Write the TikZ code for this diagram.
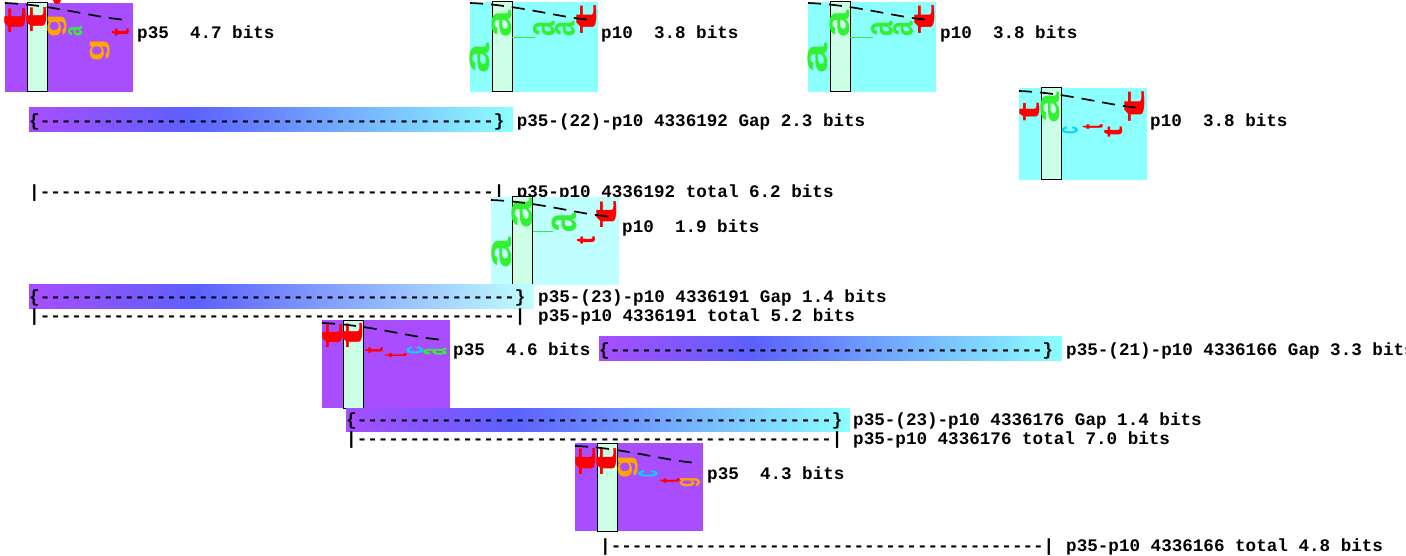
\documentclass[tikz,border=0pt]{standalone}
\usepackage{fontspec}
\usepackage{graphicx}
\newfontfamily\monob{Liberation Mono}
\newfontfamily\glyphfont{Liberation Sans}
\definecolor{lpurple}{RGB}{168,78,255}
\definecolor{lcyan}{RGB}{140,255,255}
\definecolor{lpale}{RGB}{192,255,255}
\definecolor{lmint}{RGB}{204,255,229}
\definecolor{gblue}{RGB}{92,96,255}
\definecolor{bred}{RGB}{255,0,0}
\definecolor{bgreen}{RGB}{50,240,50}
\definecolor{borange}{RGB}{255,165,0}
\definecolor{bcyan}{RGB}{0,215,255}
\newcount\dcnt
\newcommand\dashrun[1]{\dcnt=#1\relax\loop\ifnum\dcnt>0 -{}\advance\dcnt by -1\repeat}
\newcounter{gl}
\newcommand\glyph[6]{%
\stepcounter{gl}%
\node[inner sep=0pt, text=#1] (g\thegl) at ({(#3+#5)/2},{(#4+#6)/2}) {\rotatebox{90}{\resizebox*{\dimexpr#6pt-#4pt\relax}{\dimexpr#5pt-#3pt\relax}{\glyphfont\bfseries #2}}};}
% shapes: x0, y0, h, bg, column offset
\newcommand\logobox[5]{%
\fill[#4] (#1,#2) rectangle ++(128,#3);
\draw[black, line width=1pt, fill=lmint] ({#1+#5},#2) rectangle ++(20,#3);}
\newcommand\logocurve[2]{%
\draw[black, line width=1.7pt, dash pattern=on 13pt off 8pt] (#1,{#2+3}) .. controls ({#1+50},{#2+5}) and ({#1+90},{#2+18}) .. ({#1+123},{#2+20});}
% gradient bar: x1, y1, x2, y2, right colour
\newcommand\gapbar[5]{%
\path[left color=lpurple, right color=gblue] (#1,#2) rectangle ({#1+0.33*(#3-#1)},#4);
\path[left color=gblue, right color=#5] ({#1+0.33*(#3-#1)-0.5},#2) rectangle (#3,#4);}
\tikzset{lbl/.style={anchor=base west, inner sep=0pt, font=\monob\bfseries\fontsize{17.6}{20}\selectfont}}
\begin{document}
\begin{tikzpicture}[x=1pt,y=-1pt]
\useasboundingbox[fill=white] (0,0) rectangle (1406,556);
% ---------- logo 1
\logobox{5}{3}{89}{lpurple}{22}
\glyph{bred}{t}{5}{7}{26}{33}
\glyph{bred}{t}{27}{7}{47}{33}
\glyph{borange}{g}{48}{15}{67}{38}
\glyph{bgreen}{a}{68}{27}{82}{37}
\glyph{borange}{g}{90}{40}{110}{62}
\glyph{bred}{t}{112}{29}{129}{37}
\fill[bred] (57,0) circle (4);
\logocurve{5}{0}
\node[lbl] (L1) at (137,39) {p35\ \ 4.7 bits};
% ---------- logo 2
\logobox{470}{2}{90}{lcyan}{22}
\draw[bgreen, line width=0.6pt] (512,37) -- (535,37);
\glyph{bgreen}{a}{470}{43}{490}{73}
\glyph{bgreen}{a}{492}{10}{512}{37}
\glyph{bgreen}{a}{533}{22}{555}{37}
\glyph{bgreen}{a}{555}{22}{575}{37}
\glyph{bred}{t}{577}{5}{597}{35}
\logocurve{470}{0}
\node[lbl] (L2) at (601,39) {p10\ \ 3.8 bits};
% ---------- logo 3
\logobox{808}{2}{90}{lcyan}{22}
\draw[bgreen, line width=0.6pt] (850,37) -- (873,37);
\glyph{bgreen}{a}{808}{43}{828}{73}
\glyph{bgreen}{a}{830}{10}{850}{37}
\glyph{bgreen}{a}{871}{22}{893}{37}
\glyph{bgreen}{a}{893}{22}{913}{37}
\glyph{bred}{t}{915}{5}{935}{35}
\logocurve{808}{0}
\node[lbl] (L3) at (940,39) {p10\ \ 3.8 bits};
% ---------- bar 1
\gapbar{29}{108}{513}{132}{lcyan}
\node[lbl] (B1) at (29,126.5) {\{\dashrun{43}\}};
\node[lbl] (B1l) at (516.6,126.5) {p35-(22)-p10 4336192 Gap 2.3 bits};
% ---------- logo 4
\logobox{1019}{88}{92}{lcyan}{22}
\glyph{bred}{t}{1020}{103}{1040}{122}
\glyph{bgreen}{a}{1041}{92}{1060}{123}
\glyph{bcyan}{c}{1062}{127}{1078}{135}
\glyph{bred}{t}{1083}{125}{1103}{130}
\glyph{bred}{t}{1105}{127}{1123}{138}
\glyph{bred}{t}{1125}{90}{1145}{122}
\logocurve{1019}{88}
\node[lbl] (L4) at (1150,127) {p10\ \ 3.8 bits};
% ---------- total 1
\node[lbl] (T1) at (29,197.5) {|\dashrun{43}|};
\node[lbl] (T1l) at (516.6,197.5) {p35-p10 4336192 total 6.2 bits};
% ---------- logo 5
\logobox{491}{197}{88}{lpale}{21}
\draw[bgreen, line width=0.6pt] (533,231) -- (553,231);
\glyph{bgreen}{a}{492}{237}{512}{268}
\glyph{bgreen}{a}{512}{198}{533}{228}
\glyph{bgreen}{a}{552}{213}{577}{232}
\glyph{bred}{t}{577}{237}{595}{245}
\glyph{bred}{t}{597}{200}{617}{228}
\logocurve{491}{197}
\node[lbl] (L5) at (622,233) {p10\ \ 1.9 bits};
% ---------- bar 2
\gapbar{29}{284}{534}{308}{lpale}
\node[lbl] (B2) at (29,302) {\{\dashrun{45}\}};
\node[lbl] (B2l) at (538,302) {p35-(23)-p10 4336191 Gap 1.4 bits};
\node[lbl] (T2) at (29,321) {|\dashrun{45}|};
\node[lbl] (T2l) at (538,321) {p35-p10 4336191 total 5.2 bits};
% ---------- logo 6
\logobox{322}{320}{88}{lpurple}{21}
\glyph{bred}{t}{323}{323}{343}{348}
\glyph{bred}{t}{343}{322}{363}{348}
\glyph{bred}{t}{365}{347}{383}{353}
\glyph{bred}{t}{385}{353}{407}{357}
\glyph{bcyan}{c}{407}{347}{423}{355}
\glyph{bgreen}{a}{423}{348}{447}{355}
\logocurve{322}{320}
\node[lbl] (L6) at (453,355.5) {p35\ \ 4.6 bits};
% ---------- bar 3
\gapbar{599}{336}{1062}{360}{lcyan}
\node[lbl] (B3) at (599,355.5) {\{\dashrun{41}\}};
\node[lbl] (B3l) at (1066,355.5) {p35-(21)-p10 4336166 Gap 3.3 bits};
% ---------- bar 4
\gapbar{346}{408}{850}{431}{lcyan}
\node[lbl] (B4) at (346,425.5) {\{\dashrun{45}\}};
\node[lbl] (B4l) at (853,425.5) {p35-(23)-p10 4336176 Gap 1.4 bits};
\node[lbl] (T3) at (346,444) {|\dashrun{45}|};
\node[lbl] (T3l) at (853,444) {p35-p10 4336176 total 7.0 bits};
% ---------- logo 7
\logobox{575}{443}{88}{lpurple}{22}
\glyph{bred}{t}{576}{447}{596}{475}
\glyph{bred}{t}{597}{447}{617}{475}
\glyph{borange}{g}{618}{455}{638}{478}
\glyph{bcyan}{c}{638}{470}{658}{477}
\glyph{bred}{t}{660}{478}{680}{483}
\glyph{borange}{g}{680}{477}{700}{487}
\logocurve{575}{443}
\node[lbl] (L7) at (707,479) {p35\ \ 4.3 bits};
% ---------- total 4
\node[lbl] (T4) at (600,551) {|\dashrun{41}|};
\node[lbl] (T4l) at (1066,551) {p35-p10 4336166 total 4.8 bits};
\end{tikzpicture}
\end{document}
